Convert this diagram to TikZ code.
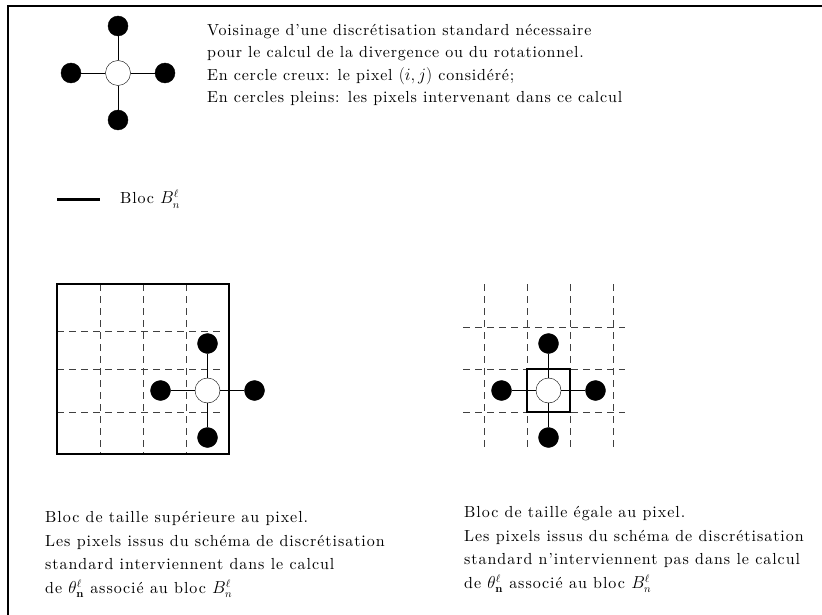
\documentclass[tikz,border=0pt]{standalone}
\usepackage{amsmath, amssymb}
\usepackage{fontspec}
\setmainfont{lmroman10-regular.otf}[BoldFont=lmroman10-bold.otf,
  ItalicFont=lmroman10-italic.otf, BoldItalicFont=lmroman10-bolditalic.otf]
\usepackage{tikz}
\usetikzlibrary{positioning}

\begin{document}
\begin{tikzpicture}[
  x=1pt, y=-1pt,
  pix/.style={circle, draw, fill=black, minimum size=20pt, inner sep=0pt},
  cur/.style={circle, draw, fill=white, minimum size=25pt, inner sep=0pt},
  gridline/.style={dash pattern=on 7pt off 5pt, black!75},
  bloc/.style={line width=2.5pt},
  txt/.style={anchor=north west, align=left, inner sep=0pt,
    font=\fontsize{16}{22.4}\selectfont\addfontfeatures{LetterSpace=5}},
  captxt/.style={txt, font=\fontsize{16}{23.5}\selectfont\addfontfeatures{LetterSpace=6}},
  node distance=47pt and 47pt, on grid
]
\useasboundingbox (0,0) rectangle (822,615);
\draw[line width=2.5pt] (822,6) -- (8,6) -- (8,615);

% stencil and caption
\node[cur] (c0) at (118,73) {};
\node[pix, above=of c0] (n0) {};
\node[pix, below=of c0] (s0) {};
\node[pix, left=of c0] (w0) {};
\node[pix, right=of c0] (e0) {};
\foreach \p in {n0, s0, w0, e0} \draw (c0) -- (\p);
\node[txt] (cap) at (207,24) {Voisinage d'une discrétisation standard nécessaire\\
  pour le calcul de la divergence ou du rotationnel.\\
  En cercle creux: le pixel $(i,j)$ considéré;\\
  En cercles pleins: les pixels intervenant dans ce calcul};

% legend
\coordinate (la) at (57,199);
\coordinate (lb) at (100,199);
\draw[line width=3pt] (la) -- (lb);
\node[txt, anchor=west] (leg) at (120,199) {Bloc $B_n^\ell$};

% block larger than the pixel
\foreach \x in {100,143,186} \draw[gridline] (\x,284) -- (\x,454);
\foreach \y in {331,369,412} \draw[gridline] (57,\y) -- (220,\y);
\draw[bloc] (57,284) rectangle (229,454);
\node[cur] (c1) at (207.5,390.5) {};
\node[pix, above=of c1] (n1) {};
\node[pix, below=of c1] (s1) {};
\node[pix, left=of c1] (w1) {};
\node[pix, right=of c1] (e1) {};
\foreach \p in {n1, s1, w1, e1} \draw (c1) -- (\p);
\node[captxt] (t1) at (45,511.5)
  {Bloc de taille supérieure au pixel.\\
  Les pixels issus du schéma de discrétisation\\
  standard interviennent dans le calcul\\
  de $\theta_{\mathbf n}^\ell$ associé au bloc $B_n^\ell$};

% block equal to the pixel
\foreach \x in {484,527,570,613} \draw[gridline] (\x,284) -- (\x,447);
\foreach \y in {327,369,412} \draw[gridline] (463,\y) -- (625,\y);
\draw[bloc] (527,369) rectangle (570,412);
\node[cur] (c2) at (548.5,390.5) {};
\node[pix, above=of c2] (n2) {};
\node[pix, below=of c2] (s2) {};
\node[pix, left=of c2] (w2) {};
\node[pix, right=of c2] (e2) {};
\foreach \p in {n2, s2, w2, e2} \draw (c2) -- (\p);
\node[captxt] (t2) at (464,506.5)
  {Bloc de taille égale au pixel.\\
  Les pixels issus du schéma de discrétisation\\
  standard n'interviennent pas dans le calcul\\
  de $\theta_{\mathbf n}^\ell$ associé au bloc $B_n^\ell$};
\end{tikzpicture}
\end{document}
